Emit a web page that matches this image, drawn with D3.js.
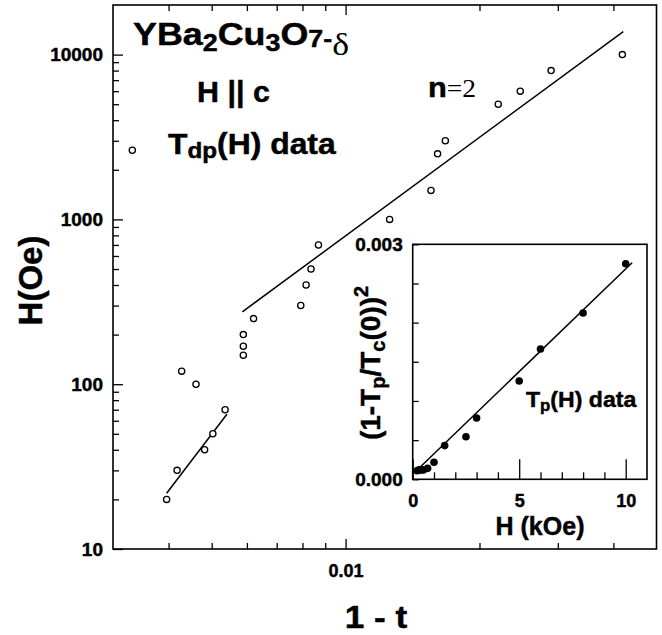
<!DOCTYPE html>
<html>
<head>
<meta charset="utf-8">
<script src="https://cdn.jsdelivr.net/npm/d3@7"></script>
<style>
  html, body { margin: 0; padding: 0; background: #fff; }
  svg { display: block; }
</style>
</head>
<body>
<script>
// ---------- data ----------
// Main plot: T_dp(H) data, x = 1 - t, y = H (Oe)
const tdpX = [0.00396, 0.00418, 0.00428, 0.00461, 0.00482, 0.00503, 0.00536, 0.00589, 0.00589, 0.00589, 0.00621, 0.00793, 0.00815, 0.00836, 0.00869, 0.01256, 0.01556, 0.0161, 0.01676, 0.02204, 0.0247, 0.02897, 0.0419];
const tdpH = [20, 30, 120, 100, 40, 50, 70, 150, 170, 200, 250, 300, 400, 500, 700, 1000, 1500, 2500, 3000, 5000, 6000, 8000, 10000];
// fitted lines (end points)
const fitHighX = [0.00586, 0.0421];
const fitHighH = [275, 13800];
const fitLowX = [0.00396, 0.00541];
const fitLowH = [21.8, 65.7];
// main axes ticks
const xMajorTicks = [0.01];
const xTickLabels = ["0.01"];
const xMinorTicks = [0.004, 0.005, 0.006, 0.007, 0.008, 0.009, 0.02, 0.03, 0.04];
const yMajorTicks = [10, 100, 1000, 10000];
const yTickLabels = ["10", "100", "1000", "10000"];
const yMinorTicks = [20, 30, 40, 50, 60, 70, 80, 90, 200, 300, 400, 500, 600, 700, 800, 900, 2000, 3000, 4000, 5000, 6000, 7000, 8000, 9000];

// Inset: T_p(H) data, x = H (kOe), y = (1 - Tp/Tc(0))^2
const tpH = [0.2, 0.3, 0.4, 0.5, 0.7, 1, 1.5, 2.5, 3, 5, 6, 8, 10];
const tpY = [0.00011, 0.00012, 0.00012, 0.00012, 0.00014, 0.000217, 0.00043, 0.000544, 0.000783, 0.001255, 0.001663, 0.002123, 0.002752];
const fitTpH = [0.1, 10.3];
const fitTpY = [0.00009, 0.002765];
const insetXMajor = [0, 5, 10];
const insetXLabels = ["0", "5", "10"];
const insetXMinor = [1, 2, 3, 4, 6, 7, 8, 9];
const insetYMajor = [0, 0.003];
const insetYLabels = ["0.000", "0.003"];
const insetYMinor = [0.0005, 0.001, 0.0015, 0.002, 0.0025];

// ---------- drawing ----------
const W = 662, H = 635;
const SANS = "'Liberation Sans', Arial, Helvetica, sans-serif";
const SERIF = "'Liberation Serif', 'Times New Roman', serif";
const HEAVY = 0.45; // extra stroke to mimic the heavy scanned bold type

const svg = d3.select("body").append("svg")
  .attr("width", W).attr("height", H)
  .attr("font-family", SANS);

svg.append("rect").attr("width", W).attr("height", H).attr("fill", "#fff");

const L = 113, R = 656.5, T = 5, B = 549;
const x = d3.scaleLog().domain([0.003, 0.05]).range([L, R]);
const y = d3.scaleLog().domain([10, 20000]).range([B, T]);

function styleAxis(g, fontSize) {
  g.select(".domain").remove();
  g.selectAll(".tick line").attr("stroke", "#000").attr("stroke-width", 1.3);
  g.selectAll(".tick text")
    .attr("fill", "#000")
    .attr("stroke", "#000").attr("stroke-width", HEAVY)
    .attr("font-family", SANS)
    .attr("font-weight", "bold")
    .attr("font-size", fontSize);
}

// main axes
svg.append("g").attr("transform", `translate(${L},0)`)
  .call(d3.axisLeft(y).tickValues(yMajorTicks).tickSize(-10).tickPadding(10)
    .tickFormat((d, i) => yTickLabels[i]))
  .call(g => styleAxis(g, 19));
svg.append("g").attr("transform", `translate(${L},0)`)
  .call(d3.axisLeft(y).tickValues(yMinorTicks).tickSize(-6).tickFormat(""))
  .call(g => styleAxis(g, 19));

svg.append("g").attr("transform", `translate(0,${B})`)
  .call(d3.axisBottom(x).tickValues(xMajorTicks).tickSize(-10).tickPadding(15)
    .tickFormat((d, i) => xTickLabels[i]))
  .call(g => styleAxis(g, 18));
svg.append("g").attr("transform", `translate(0,${B})`)
  .call(d3.axisBottom(x).tickValues(xMinorTicks).tickSize(-6).tickFormat(""))
  .call(g => styleAxis(g, 18));

svg.append("g").attr("transform", `translate(0,${T})`)
  .call(d3.axisTop(x).tickValues(xMajorTicks).tickSize(-10).tickFormat(""))
  .call(g => styleAxis(g, 18));
svg.append("g").attr("transform", `translate(0,${T})`)
  .call(d3.axisTop(x).tickValues(xMinorTicks).tickSize(-6).tickFormat(""))
  .call(g => styleAxis(g, 18));

// frame
svg.append("rect").attr("x", L).attr("y", T).attr("width", R - L).attr("height", B - T)
  .attr("fill", "none").attr("stroke", "#000").attr("stroke-width", 1.6);

// fit lines
const line = d3.line().x(d => x(d[0])).y(d => y(d[1]));
svg.append("path").datum(d3.zip(fitHighX, fitHighH)).attr("d", line)
  .attr("fill", "none").attr("stroke", "#000").attr("stroke-width", 1.5);
svg.append("path").datum(d3.zip(fitLowX, fitLowH)).attr("d", line)
  .attr("fill", "none").attr("stroke", "#000").attr("stroke-width", 1.5);

// data points (open circles)
svg.append("g").selectAll("circle").data(d3.zip(tdpX, tdpH)).join("circle")
  .attr("cx", d => x(d[0])).attr("cy", d => y(d[1])).attr("r", 3.1)
  .attr("fill", "#fff").attr("stroke", "#000").attr("stroke-width", 1.3);

// ---------- texts in main plot ----------
function richText(parent, tx, ty, sx, parts, anchor) {
  const t = parent.append("text")
    .attr("transform", `translate(${tx},${ty}) scale(${sx},1)`)
    .attr("fill", "#000")
    .attr("text-anchor", anchor || "start");
  parts.forEach(p => {
    t.append("tspan").text(p.s)
      .attr("font-size", p.fs)
      .attr("font-family", p.serif ? SERIF : SANS)
      .attr("font-weight", p.serif ? "normal" : "bold")
      .attr("stroke", p.serif ? "none" : "#000")
      .attr("stroke-width", HEAVY)
      .attr("dy", p.dy || 0);
  });
  return t;
}

richText(svg, 133, 45, 1.12, [
  { s: "YBa", fs: 32 },
  { s: "2", fs: 24, dy: 6 },
  { s: "Cu", fs: 32, dy: -6 },
  { s: "3", fs: 24, dy: 6 },
  { s: "O", fs: 32, dy: -6 },
  { s: "7", fs: 24, dy: 2 },
  { s: "-", fs: 24 },
  { s: "δ", fs: 32, serif: true, dy: 8 }
]);

richText(svg, 197, 101.7, 1.05, [{ s: "H || c", fs: 29 }]);

richText(svg, 168, 154, 1.1, [
  { s: "T", fs: 29 },
  { s: "dp", fs: 22, dy: 4 },
  { s: "(H) data", fs: 29, dy: -4 }
]);

// legend symbol
svg.append("circle").attr("cx", 132.3).attr("cy", 150.3).attr("r", 3.1)
  .attr("fill", "#fff").attr("stroke", "#000").attr("stroke-width", 1.3);

richText(svg, 428, 97.3, 1.1, [
  { s: "n", fs: 28 },
  { s: "=2", fs: 25, serif: true }
]);

// axis titles
richText(svg, 376, 628, 1.1, [{ s: "1 - t", fs: 32 }], "middle");
svg.append("text")
  .attr("transform", "translate(41.7,280.5) rotate(-90)")
  .attr("text-anchor", "middle")
  .attr("font-weight", "bold").attr("font-size", 33).attr("fill", "#000")
  .attr("stroke", "#000").attr("stroke-width", HEAVY)
  .text("H(Oe)");

// ---------- inset ----------
const iL = 412.7, iR = 647, iT = 244.3, iB = 479.3;
const ix = d3.scaleLinear().domain([0, 11]).range([iL, iR]);
const iy = d3.scaleLinear().domain([0, 0.003]).range([iB, iT]);

const inset = svg.append("g");
inset.append("rect").attr("x", iL).attr("y", iT).attr("width", iR - iL).attr("height", iB - iT)
  .attr("fill", "#fff");

inset.append("g").attr("transform", `translate(0,${iB})`)
  .call(d3.axisBottom(ix).tickValues(insetXMajor).tickSize(-20).tickPadding(15)
    .tickFormat((d, i) => insetXLabels[i]))
  .call(g => styleAxis(g, 18));
inset.append("g").attr("transform", `translate(0,${iB})`)
  .call(d3.axisBottom(ix).tickValues(insetXMinor).tickSize(-7).tickFormat(""))
  .call(g => styleAxis(g, 18));
inset.append("g").attr("transform", `translate(${iL},0)`)
  .call(d3.axisLeft(iy).tickValues(insetYMajor).tickSize(-6).tickPadding(10)
    .tickFormat((d, i) => insetYLabels[i]))
  .call(g => styleAxis(g, 19));
inset.append("g").attr("transform", `translate(${iL},0)`)
  .call(d3.axisLeft(iy).tickValues(insetYMinor).tickSize(-6).tickFormat(""))
  .call(g => styleAxis(g, 19));

inset.append("rect").attr("x", iL).attr("y", iT).attr("width", iR - iL).attr("height", iB - iT)
  .attr("fill", "none").attr("stroke", "#000").attr("stroke-width", 1.6);

const iline = d3.line().x(d => ix(d[0])).y(d => iy(d[1]));
inset.append("path").datum(d3.zip(fitTpH, fitTpY)).attr("d", iline)
  .attr("fill", "none").attr("stroke", "#000").attr("stroke-width", 1.5);

inset.append("g").selectAll("circle").data(d3.zip(tpH, tpY)).join("circle")
  .attr("cx", d => ix(d[0])).attr("cy", d => iy(d[1])).attr("r", 3.8)
  .attr("fill", "#000");

richText(inset, 526, 406.7, 1.05, [
  { s: "T", fs: 22 },
  { s: "p", fs: 16, dy: 4 },
  { s: "(H) data", fs: 22, dy: -4 }
]);

richText(inset, 540, 535, 1.0, [{ s: "H (kOe)", fs: 25 }], "middle");

const ylab = inset.append("text")
  .attr("transform", "translate(380,363) rotate(-90)")
  .attr("text-anchor", "middle").attr("fill", "#000")
  .attr("stroke", "#000").attr("stroke-width", HEAVY)
  .attr("font-weight", "bold");
[
  { s: "(1-T", fs: 28 },
  { s: "p", fs: 20, dy: 5 },
  { s: "/T", fs: 28, dy: -5 },
  { s: "c", fs: 20, dy: 5 },
  { s: "(0))", fs: 28, dy: -5 },
  { s: "2", fs: 20, dy: -12 }
].forEach(p => ylab.append("tspan").text(p.s).attr("font-size", p.fs).attr("dy", p.dy || 0));
</script>
</body>
</html>
